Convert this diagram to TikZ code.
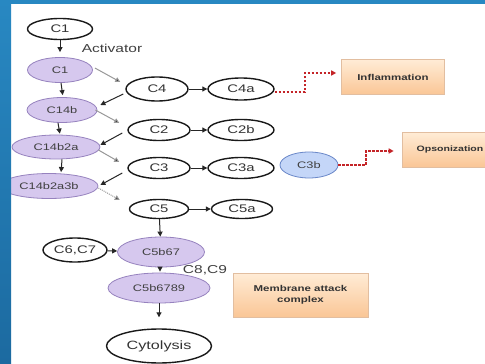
\documentclass[tikz,border=0pt]{standalone}
\usepackage{fontspec}
\setmainfont[FakeStretch=1.35]{Liberation Sans}
\usetikzlibrary{arrows.meta,shapes.geometric}
\definecolor{slideblue}{RGB}{40,136,194}
\definecolor{slidebluedark}{RGB}{28,106,160}
\definecolor{purfill}{RGB}{214,200,238}
\definecolor{purdraw}{RGB}{150,130,190}
\definecolor{bluefill}{RGB}{196,214,248}
\definecolor{bluedraw}{RGB}{105,135,200}
\definecolor{redarrow}{RGB}{196,36,40}
\definecolor{boxtop}{RGB}{255,236,214}
\definecolor{boxbot}{RGB}{250,198,150}
\definecolor{boxdraw}{RGB}{226,190,160}
\begin{document}
\begin{tikzpicture}[x=1pt,y=-1pt,
  plain/.style={ellipse,draw=black!90,line width=1.4pt,fill=white,inner sep=0pt,
    minimum width=62pt,minimum height=22pt,font=\fontsize{11}{11}\selectfont,text=black!80},
  pur/.style={ellipse,draw=purdraw,line width=0.8pt,fill=purfill,inner sep=0pt,
    minimum height=25pt,font=\fontsize{9.5}{9.5}\selectfont,text=black!75},
  bluenode/.style={ellipse,draw=bluedraw,line width=0.8pt,fill=bluefill,inner sep=0pt,
    minimum width=58pt,minimum height=26pt,font=\fontsize{9.5}{9.5}\selectfont,text=black!75},
  outbox/.style={rectangle,draw=boxdraw,line width=0.6pt,top color=boxtop,bottom color=boxbot,
    inner sep=2pt,minimum height=35pt,align=center,font=\bfseries\fontsize{8.5}{10.5}\selectfont,text=black!80},
  ar/.style={-{Triangle[length=5pt,width=5pt]},line width=1pt,draw=black!85},
  grayar/.style={-{Triangle[length=5pt,width=5pt,fill=black!85]},line width=1pt,draw=black!40},
  redar/.style={-{Triangle[length=5pt,width=5pt]},line width=1.3pt,draw=redarrow,dashed,dash pattern=on 2.5pt off 1.5pt},
  lbl/.style={inner sep=0pt,font=\fontsize{11.5}{11.5}\selectfont,text=black!75}
]
\useasboundingbox (0,0) rectangle (485,364);
\fill[white] (0,0) rectangle (485,364);

% left column
\node[plain,minimum width=65pt,minimum height=21pt] (c1) at (60,29) {C1};
\node[lbl] (act) at (112,48) {Activator};
\node[pur,minimum width=65pt] (c1p) at (60,70) {C1};
\node[pur,minimum width=70pt] (c14b) at (62,110) {C14b};
\node[pur,minimum width=88pt,minimum height=24pt] (c14b2a) at (56,147) {C14b2a};
\node[pur,minimum width=98pt,minimum height=25pt] (c14b2a3b) at (49,186) {C14b2a3b};

% C column
\node[plain,minimum height=24pt] (c4) at (157,89) {C4};
\node[plain,minimum height=21pt] (c2) at (159,130) {C2};
\node[plain,minimum height=21pt] (c3) at (159,168) {C3};
\node[plain,minimum width=59pt,minimum height=19pt] (c5) at (159,209) {C5};
\node[plain,minimum width=66pt] (c4a) at (241,89) {C4a};
\node[plain,minimum width=66pt,minimum height=21pt] (c2b) at (241,130) {C2b};
\node[plain,minimum width=66pt,minimum height=21pt] (c3a) at (241,168) {C3a};
\node[plain,minimum width=61pt,minimum height=19pt] (c5a) at (242,209) {C5a};
\node[bluenode] (c3b) at (309,165) {C3b};

% MAC
\node[pur,minimum width=87pt,minimum height=30pt] (c5b67) at (161,252) {C5b67};
\node[plain,minimum width=64pt,minimum height=24pt] (c67) at (75,250) {C6,C7};
\node[lbl] (c89) at (205,270) {C8,C9};
\node[pur,minimum width=102pt,minimum height=30pt] (c5b6789) at (159,288) {C5b6789};
\node[plain,minimum width=105pt,minimum height=34pt,font=\fontsize{12}{12}\selectfont] (cyto) at (159,346) {Cytolysis};

% boxes
\node[outbox,minimum width=103pt] (infl) at (393,77) {Inflammation};
\node[outbox,minimum width=96pt,font=\bfseries\fontsize{7.8}{9}\selectfont] (opso) at (450,149.5) {Opsonization};
\node[outbox,minimum width=135pt,minimum height=44pt] (mac) at (300.5,295) {Membrane attack\\complex};

% vertical chain
\draw[ar,shorten >=5pt] (c1) -- (c1p);
\draw[ar,shorten >=2pt] ([xshift=1pt]c1p.south) -- ([xshift=1pt]c14b.north);
\draw[ar,shorten >=1pt] ([xshift=-4pt]c14b.south) -- ([xshift=4pt]c14b2a.north);
\draw[ar,shorten >=1pt] ([xshift=6pt]c14b2a.south) -- ([xshift=12pt]c14b2a3b.north);
\draw[ar] (c5) -- (c5b67);
\draw[ar,shorten >=1pt] ([xshift=-1pt]c5b67.south) -- ([xshift=1pt]c5b6789.north);
\draw[ar,shorten >=11pt] (c5b6789) -- (cyto);
\draw[ar] (c67) -- (c5b67);

% zig-zag
\draw[grayar] ([shift={(2,-2)}]c1p.east) -- ([shift={(-5,-7)}]c4.west);
\draw[ar] ([shift={(-2,5)}]c4.west) -- ([shift={(3,-5)}]c14b.east);
\draw[grayar] ([shift={(-2,0)}]c14b.east) -- ([shift={(-8,-7)}]c2.west);
\draw[ar] ([shift={(-5,3)}]c2.west) -- ([shift={(0,-2)}]c14b2a.east);
\draw[grayar] ([shift={(-2,3)}]c14b2a.east) -- ([shift={(-8,-6)}]c3.west);
\draw[ar] ([shift={(-5,5)}]c3.west) -- ([shift={(2,-1)}]c14b2a3b.east);
\draw[grayar,densely dotted] ([shift={(0,2)}]c14b2a3b.east) -- ([shift={(-9,-9)}]c5.west);

% horizontal
\draw[ar] (c4) -- (c4a);
\draw[ar] (c2) -- (c2b);
\draw[ar] (c3) -- (c3a);
\draw[ar] (c5) -- (c5a);

% red dashed
\draw[redar,shorten >=5pt] ([yshift=-3pt]c4a.east) -| (305,73) -- (infl.west |- 0,73);
\draw[redar,shorten >=8pt] (c3b.east) -| (366,151) -- (opso.west |- 0,151);

% slide background
\shade[top color=slideblue,bottom color=slidebluedark] (0,0) rectangle (11,364);
\fill[slideblue] (0,0) rectangle (485,4);
\end{tikzpicture}
\end{document}
